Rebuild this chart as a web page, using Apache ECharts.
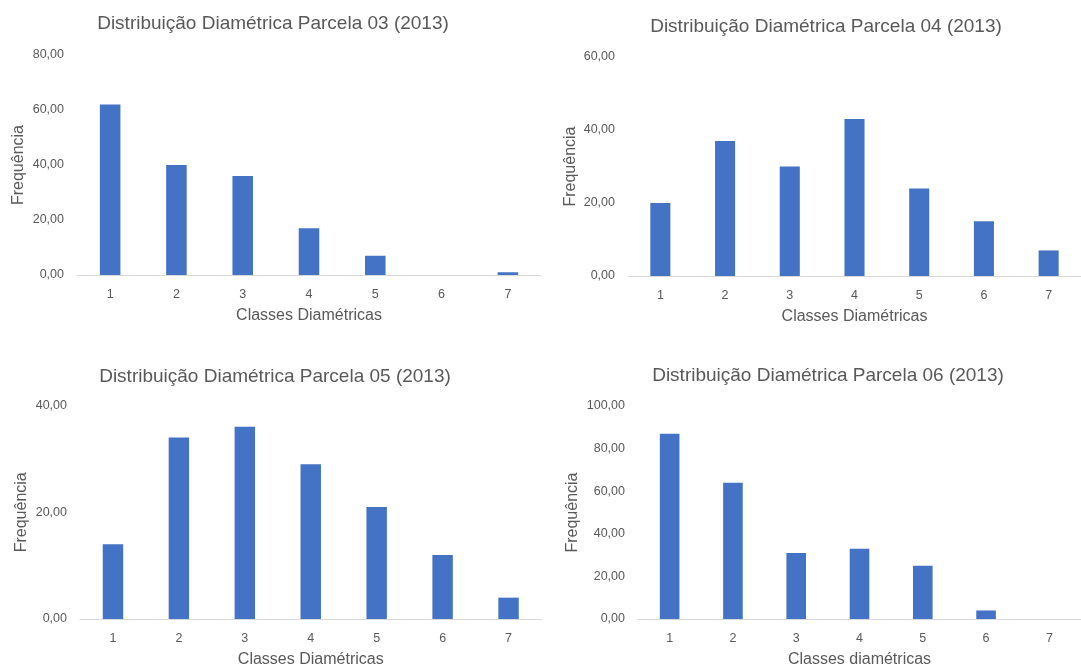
<!DOCTYPE html>
<html>
<head>
<meta charset="utf-8">
<script src="https://cdn.jsdelivr.net/npm/echarts@6/dist/echarts.min.js"></script>
<style>
  html, body { margin: 0; padding: 0; background: #ffffff; }
  #chart { width: 1081px; height: 669px; }
</style>
</head>
<body>
<div id="chart"></div>
<script>
// Diameter classes shared by all plots
const classes = ['1', '2', '3', '4', '5', '6', '7'];

// Frequency per diameter class, one array per plot (parcela)
const parcela03 = [62, 40, 36, 17, 7, 0, 1];
const parcela04 = [20, 37, 30, 43, 24, 15, 7];
const parcela05 = [14, 34, 36, 29, 21, 12, 4];
const parcela06 = [87, 64, 31, 33, 25, 4, 0];

// Panel texts
const panelTitles = [
  'Distribuição Diamétrica Parcela 03 (2013)',
  'Distribuição Diamétrica Parcela 04 (2013)',
  'Distribuição Diamétrica Parcela 05 (2013)',
  'Distribuição Diamétrica Parcela 06 (2013)'
];
const xAxisNames = [
  'Classes Diamétricas',
  'Classes Diamétricas',
  'Classes Diamétricas',
  'Classes diamétricas'
];
const yAxisName = 'Frequência';

// Value-axis ranges (ticks every 20)
const yMax = [80, 60, 40, 100];
const yInterval = 20;

const seriesData = [parcela03, parcela04, parcela05, parcela06];

// Layout of the four panels (2 x 2)
const layout = [
  { grid: { left: 77,  top: 55,    width: 464,   height: 220 },   title: [273, 24],  yGap: 50 },
  { grid: { left: 628, top: 57,    width: 462.5, height: 219 },   title: [826, 27],  yGap: 49 },
  { grid: { left: 80,  top: 405.5, width: 461.5, height: 217.5 }, title: [275, 377], yGap: 50 },
  { grid: { left: 638, top: 406,   width: 452.5, height: 217 },   title: [828, 376], yGap: 57 }
];

const FONT = '"Liberation Sans", Arial, sans-serif';
const TEXT_COLOR = '#595959';
const BAR_COLOR = '#4472C4';
const AXIS_COLOR = '#D9D9D9';

const fmt = v => v.toFixed(2).replace('.', ',');

const option = {
  backgroundColor: '#ffffff',
  animation: false,
  grid: layout.map(p => Object.assign({ containLabel: false }, p.grid)),
  xAxis: layout.map((p, i) => ({
    type: 'category',
    gridIndex: i,
    data: classes,
    axisLine: { show: true, lineStyle: { color: AXIS_COLOR, width: 1 } },
    axisTick: { show: false },
    axisLabel: { color: TEXT_COLOR, fontFamily: FONT, fontSize: 12.5, margin: 13 },
    name: xAxisNames[i],
    nameLocation: 'middle',
    nameGap: 33,
    nameTextStyle: { color: TEXT_COLOR, fontFamily: FONT, fontSize: 16 }
  })),
  yAxis: layout.map((p, i) => ({
    type: 'value',
    gridIndex: i,
    min: 0,
    max: yMax[i],
    interval: yInterval,
    axisLine: { show: false },
    axisTick: { show: false },
    splitLine: { show: false },
    axisLabel: { color: TEXT_COLOR, fontFamily: FONT, fontSize: 12.5, margin: 13, formatter: fmt },
    name: yAxisName,
    nameLocation: 'middle',
    nameGap: p.yGap,
    nameTextStyle: { color: TEXT_COLOR, fontFamily: FONT, fontSize: 16 }
  })),
  series: seriesData.map((d, i) => ({
    type: 'bar',
    xAxisIndex: i,
    yAxisIndex: i,
    data: d,
    barWidth: '31%',
    itemStyle: { color: BAR_COLOR }
  })),
  graphic: layout.map((p, i) => ({
    type: 'text',
    x: p.title[0],
    y: p.title[1],
    silent: true,
    style: {
      text: panelTitles[i],
      font: '19px ' + FONT,
      fill: TEXT_COLOR,
      textAlign: 'center',
      textVerticalAlign: 'middle'
    }
  }))
};

const chart = echarts.init(document.getElementById('chart'), null, { renderer: 'canvas' });
chart.setOption(option);
</script>
</body>
</html>
